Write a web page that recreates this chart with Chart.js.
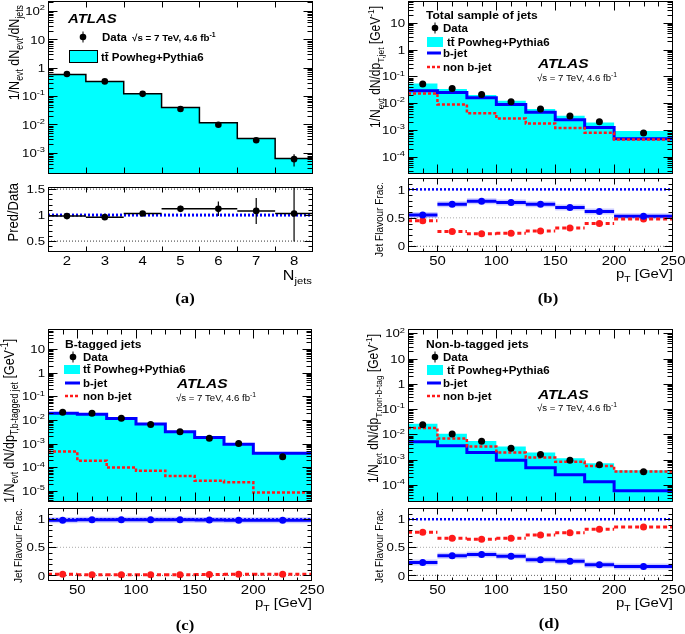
<!DOCTYPE html>
<html>
<head>
<meta charset="utf-8">
<script src="https://cdn.jsdelivr.net/npm/chart.js@4.4.1/dist/chart.umd.min.js"></script>
<style>
  body { margin: 0; background: #fff; width: 685px; height: 634px; position: relative; overflow: hidden; }
  canvas { position: absolute; }
</style>
</head>
<body>
<canvas id="aTop"></canvas><canvas id="aBot"></canvas>
<canvas id="bTop"></canvas><canvas id="bBot"></canvas>
<canvas id="cTop"></canvas><canvas id="cBot"></canvas>
<canvas id="dTop"></canvas><canvas id="dBot"></canvas>
<script>
// ---- (a) jet multiplicity ----
const njets = [2, 3, 4, 5, 6, 7, 8];
const njetsLabels = ['2', '3', '4', '5', '6', '7', '8'];
const njetsEdges = [1.5, 2.5, 3.5, 4.5, 5.5, 6.5, 7.5, 8.5];
const njetsData = [0.60, 0.33, 0.12, 0.035, 0.0098, 0.0028, 0.0006];
const njetsDataErrUp = [0.02, 0.01, 0.004, 0.0015, 0.0006, 0.0004, 0.0003];
const njetsDataErrDn = [0.02, 0.01, 0.004, 0.0015, 0.0006, 0.0004, 0.00027];
const njetsMC = [0.58, 0.325, 0.121, 0.040, 0.0115, 0.0032, 0.00063];
const njetsRatio = [0.98, 0.96, 1.03, 1.12, 1.12, 1.08, 1.03];
const njetsRatioErr = [0.02, 0.02, 0.03, 0.06, 0.14, 0.25, 0.54];
const ratioTicks = [0.5, 1, 1.5];
const ratioTickLabels = ['0.5', '1', '1.5'];

// ---- pT binning shared by (b), (c), (d) ----
const ptEdges = [25, 50, 75, 100, 125, 150, 175, 200, 250];
const ptCentres = [37.5, 62.5, 87.5, 112.5, 137.5, 162.5, 187.5, 225];
const ptTicks = [50, 100, 150, 200, 250];
const ptTickLabels = ['50', '100', '150', '200', '250'];
const fracTicks = [0, 0.5, 1];
const fracTickLabels = ['0', '0.5', '1'];

// ---- (b) all jets ----
const allData = [0.052, 0.035, 0.021, 0.0112, 0.0060, 0.0033, 0.0020, 0.00077];
const allMC = [0.054, 0.034, 0.020, 0.0123, 0.0060, 0.0034, 0.0019, 0.00092];
const allB = [0.029, 0.025, 0.0158, 0.0089, 0.0046, 0.0024, 0.00123, 0.00047];
const allNonB = [0.023, 0.0089, 0.0042, 0.00266, 0.00174, 0.00119, 0.00079, 0.00044];
const allFracB = [0.55, 0.74, 0.79, 0.77, 0.74, 0.68, 0.61, 0.53];
const allFracNonB = [0.45, 0.26, 0.22, 0.23, 0.27, 0.32, 0.40, 0.48];

// ---- (c) b-tagged jets ----
const tagData = [0.021, 0.019, 0.0118, 0.0064, 0.0032, 0.0017, 0.0010, 0.00028];
const tagMC = [0.0195, 0.0178, 0.0116, 0.0069, 0.0033, 0.0018, 0.00096, 0.00040];
const tagB = [0.019, 0.0174, 0.0114, 0.0068, 0.0032, 0.0018, 0.00094, 0.00039];
const tagNonB = [4.6e-4, 1.9e-4, 9.7e-5, 7.2e-5, 4.3e-5, 2.7e-5, 2.3e-5, 8.5e-6];
const tagFracB = [0.98, 0.99, 0.99, 0.99, 0.99, 0.985, 0.98, 0.98];
const tagFracNonB = [0.02, 0.01, 0.01, 0.01, 0.01, 0.015, 0.02, 0.02];

// ---- (d) non-b-tagged jets ----
const untagData = [0.024, 0.0103, 0.0053, 0.0028, 0.0016, 0.00094, 0.00062, 0.00033];
const untagMC = [0.026, 0.0106, 0.0055, 0.0033, 0.0019, 0.00113, 0.00072, 0.00038];
const untagB = [0.0051, 0.0035, 0.0019, 0.00094, 0.00048, 0.00025, 0.000132, 0.000058];
const untagNonB = [0.018, 0.0068, 0.0033, 0.0019, 0.0012, 0.00083, 0.00056, 0.00034];
const untagFracB = [0.23, 0.35, 0.37, 0.34, 0.28, 0.25, 0.19, 0.16];
const untagFracNonB = [0.77, 0.66, 0.645, 0.66, 0.72, 0.76, 0.82, 0.86];

const CYAN = '#00ffff', BLUE = '#0000ff', RED = '#ff1a1a';
const SX = 1.15;   // picture is a bit wider than tall
const SANS = '"Liberation Sans", Arial, sans-serif';
const SERIF = '"Liberation Serif", "Times New Roman", serif';
const TICK = 11.5;

// text with _{sub} and ^{sup}
function parse(s) {
  const out = []; let buf = '', i = 0;
  while (i < s.length) {
    const c = s[i];
    if ((c === '_' || c === '^') && s[i + 1] === '{') {
      if (buf) { out.push([buf, 0]); buf = ''; }
      const j = s.indexOf('}', i);
      out.push([s.slice(i + 2, j), c === '_' ? 1 : -1]);
      i = j + 1;
    } else { buf += c; i++; }
  }
  if (buf) out.push([buf, 0]);
  return out;
}
function txt(ctx, s, x, y, o) {
  const parts = parse(s);
  const font = sz => `${o.italic ? 'italic ' : ''}${o.bold ? 'bold ' : ''}${sz}px ${o.serif ? SERIF : SANS}`;
  ctx.save();
  ctx.translate(x, y);
  ctx.scale(o.sx || SX, 1);
  if (o.rot) ctx.rotate(-Math.PI / 2);
  ctx.fillStyle = o.color || '#000';
  ctx.textAlign = 'left';
  ctx.textBaseline = 'alphabetic';
  const sizes = parts.map(p => p[1] ? o.size * 0.7 : o.size);
  const widths = parts.map((p, i) => { ctx.font = font(sizes[i]); return ctx.measureText(p[0]).width; });
  const w = widths.reduce((a, b) => a + b, 0);
  let cx = o.align === 'right' ? -w : o.align === 'center' ? -w / 2 : 0;
  parts.forEach((p, i) => {
    ctx.font = font(sizes[i]);
    ctx.fillText(p[0], cx, p[1] === 1 ? o.size * 0.3 : p[1] === -1 ? -o.size * 0.42 : 0);
    cx += widths[i];
  });
  ctx.restore();
}

// frame, inward ticks on all sides, tick labels, titles and legend keys
const rootPlugin = {
  id: 'root',
  afterDraw(chart, args, o) {
    const ctx = chart.ctx, a = chart.chartArea, xs = chart.scales.x, ys = chart.scales.y;
    const L = Math.round(a.left) + 0.5, R = Math.round(a.right) - 0.5;
    const T = Math.round(a.top) + 0.5, B = Math.round(a.bottom) - 0.5;
    ctx.save();
    ctx.strokeStyle = '#000';
    ctx.lineWidth = 1;
    ctx.beginPath();
    o.yTicks.forEach(([v, len]) => {
      const p = Math.round(ys.getPixelForValue(v)) + 0.5;
      if (p < T || p > B) return;
      ctx.moveTo(L, p); ctx.lineTo(L + len, p);
      ctx.moveTo(R, p); ctx.lineTo(R - len, p);
    });
    o.xTicks.forEach(([v, len]) => {
      const p = Math.round(xs.getPixelForValue(v)) + 0.5;
      if (p < L || p > R) return;
      ctx.moveTo(p, B); ctx.lineTo(p, B - len);
      ctx.moveTo(p, T); ctx.lineTo(p, T + len);
    });
    ctx.stroke();
    ctx.strokeRect(L, T, R - L, B - T);
    (o.yLabels || []).forEach(([v, s]) =>
      txt(ctx, s, a.left - 3, ys.getPixelForValue(v) + TICK * 0.36, { size: TICK, align: 'right' }));
    (o.xLabels || []).forEach(([v, s]) =>
      txt(ctx, s, xs.getPixelForValue(v), a.bottom + 13, { size: 13, align: 'center' }));
    ctx.translate(-o.ox, -o.oy);
    (o.keys || []).forEach(k => {
      if (k.type === 'marker') {
        ctx.fillStyle = '#000';
        ctx.beginPath(); ctx.arc(k.x, k.y, 3.3, 0, Math.PI * 2); ctx.fill();
        ctx.beginPath(); ctx.moveTo(k.x, k.y - 5.5); ctx.lineTo(k.x, k.y + 5.5); ctx.stroke();
      } else if (k.type === 'box') {
        ctx.fillStyle = CYAN; ctx.fillRect(k.x, k.y, k.w, k.h);
        if (k.outline) { ctx.strokeStyle = '#000'; ctx.strokeRect(k.x + 0.5, k.y + 0.5, k.w, k.h); }
      } else {
        ctx.strokeStyle = k.color; ctx.lineWidth = k.w; ctx.setLineDash(k.dash || []);
        ctx.beginPath(); ctx.moveTo(k.x1, k.y); ctx.lineTo(k.x2, k.y); ctx.stroke();
        ctx.setLineDash([]); ctx.lineWidth = 1;
      }
    });
    (o.texts || []).forEach(t => txt(ctx, t.s, t.x, t.y, t));
    ctx.restore();
  }
};

// helpers turning the arrays into line-chart points
const hist = (edges, vals) => vals.map((v, i) => ({ x: edges[i], y: v })).concat([{ x: edges[edges.length - 1], y: vals[vals.length - 1] }]);
const segs = (edges, vals) => vals.flatMap((v, i) => [{ x: edges[i], y: v }, { x: edges[i + 1], y: v }, { x: edges[i + 1], y: null }]);
const vbars = (xs, vals, up, dn) => xs.flatMap((x, i) => [{ x, y: vals[i] - dn[i] }, { x, y: vals[i] + up[i] }, { x, y: null }]);
const pts = (xs, vals) => xs.map((x, i) => ({ x, y: vals[i] }));
const hline = (x0, x1, y) => [{ x: x0, y }, { x: x1, y }];

const dPts = (data, color, r) => ({ data, showLine: false, pointRadius: r, pointBackgroundColor: color, pointBorderWidth: 0, borderColor: color });
const dLine = (data, color, w, dash, stepped) => ({ data, borderColor: color, borderWidth: w, borderDash: dash || [], stepped: !!stepped, pointRadius: 0, fill: false });
const dFill = (data, border, bw) => ({ data, stepped: true, fill: 'start', backgroundColor: CYAN, borderColor: border, borderWidth: bw, pointRadius: 0 });

function logTicks(min, max, maj, mnr) {
  const t = [];
  for (let e = Math.floor(Math.log10(min)); e <= Math.ceil(Math.log10(max)); e++)
    for (let k = 1; k < 10; k++) { const v = k * Math.pow(10, e); if (v >= min && v <= max) t.push([v, k === 1 ? maj : mnr]); }
  return t;
}
function logLabels(min, max) {
  const t = [];
  for (let e = Math.ceil(Math.log10(min)); e <= Math.floor(Math.log10(max)); e++)
    t.push([Math.pow(10, e), e === 0 ? '1' : e === 1 ? '10' : '10^{' + e + '}']);
  return t;
}
function linTicks(min, max, step, majVals, maj, mnr) {
  const t = [];
  for (let i = Math.ceil(min / step - 1e-6); i * step <= max + 1e-9; i++) {
    const v = +(i * step).toFixed(6);
    t.push([v, majVals.some(m => Math.abs(m - v) < 1e-6) ? maj : mnr]);
  }
  return t;
}
const zip = (vals, labels) => vals.map((v, i) => [v, labels[i]]);

function makeChart(id, box, frame, xr, yr, ylog, datasets, root) {
  const cv = document.getElementById(id);
  cv.width = box[2]; cv.height = box[3];
  cv.style.left = box[0] + 'px'; cv.style.top = box[1] + 'px';
  root.ox = box[0]; root.oy = box[1];
  return new Chart(cv, {
    type: 'line',
    data: { datasets },
    options: {
      responsive: false, animation: false, events: [], devicePixelRatio: 1,
      layout: { autoPadding: false, padding: {
        left: frame[0] - box[0], right: box[0] + box[2] - frame[1],
        top: frame[2] - box[1], bottom: box[1] + box[3] - frame[3] } },
      scales: {
        x: { type: 'linear', min: xr[0], max: xr[1], display: false },
        y: { type: ylog ? 'logarithmic' : 'linear', min: yr[0], max: yr[1], display: false }
      },
      plugins: { legend: { display: false }, tooltip: { enabled: false }, root }
    },
    plugins: [rootPlugin]
  });
}

const ptXTicksTop = linTicks(25, 250, 12.5, ptTicks, 9, 5);
const ptXTicksBot = linTicks(25, 250, 12.5, ptTicks, 6, 3);
const fracYTicks = linTicks(-0.1, 1.2, 0.1, fracTicks, 8, 4);
const ptXLabels = zip(ptTicks, ptTickLabels);
const fracYLabels = zip(fracTicks, fracTickLabels);
const leg = 10;

// ===== (a) =====
const aBox = [0, 0, 340, 320];
const aY = [1.8e-4, 225];
makeChart('aTop', aBox, [48, 313, 1, 174], [1.5, 8.5], aY, true, [
  dPts(pts(njets, njetsData), '#000', 3.3),
  dLine(vbars(njets, njetsData, njetsDataErrUp, njetsDataErrDn), '#000', 1.2),
  dFill(hist(njetsEdges, njetsMC), '#000', 1.5)
], {
  yTicks: logTicks(aY[0], aY[1], 9, 5), xTicks: njetsEdges.slice(1, -1).map(v => [v, 6]),
  yLabels: logLabels(aY[0], aY[1]),
  keys: [{ type: 'marker', x: 83, y: 37 }, { type: 'box', x: 69, y: 50, w: 28, h: 12, outline: true }],
  texts: [
    { s: '1/N_{evt} dN_{evt}/dN_{jets}', x: 19, y: 5, size: 12.5, rot: true, align: 'right' },
    { s: 'ATLAS', x: 68, y: 22.5, size: 13, bold: true, italic: true },
    { s: 'Data', x: 102, y: 41, size: leg, bold: true },
    { s: '\u221As = 7 TeV, 4.6 fb^{-1}', x: 132, y: 41, size: 9.8, bold: true, sx: 1 },
    { s: 'tt\u0304 Powheg+Pythia6', x: 101, y: 61, size: leg, bold: true }
  ]
});
const aR = [0.29, 1.54];
makeChart('aBot', aBox, [48, 313, 187, 252], [1.5, 8.5], aR, false, [
  dPts(pts(njets, njetsRatio), '#000', 3.3),
  dLine(vbars(njets, njetsRatio, njetsRatioErr, njetsRatioErr), '#000', 1.2),
  dLine(segs(njetsEdges, njetsRatio), '#000', 1.5),
  dLine(hline(1.5, 8.5, 1), BLUE, 3, [2, 2]),
  dLine(hline(1.5, 8.5, 0.5), '#333', 1, [1, 2]),
  dLine(hline(1.5, 8.5, 1.5), '#333', 1, [1, 2])
], {
  yTicks: linTicks(aR[0], aR[1], 0.1, ratioTicks, 8, 4), xTicks: njetsEdges.slice(1, -1).map(v => [v, 5]),
  yLabels: zip(ratioTicks, ratioTickLabels), xLabels: zip(njets, njetsLabels),
  texts: [
    { s: 'Pred/Data', x: 18, y: 183, size: 13, rot: true, align: 'right' },
    { s: 'N_{jets}', x: 312, y: 280, size: 14, align: 'right' },
    { s: '(a)', x: 185, y: 303, size: 14.5, bold: true, serif: true, align: 'center' }
  ]
});

// ===== upper / lower pT panels =====
function ptPanel(ids, box, L, R, topFr, botFr, yr, data, mc, bj, nb, fb, fnb, texts, keys) {
  const upper = [
    dPts(pts(ptCentres, data), '#000', 3.5),
    dLine(hist(ptEdges, nb), RED, 2.5, [3, 2], true),
    dLine(hist(ptEdges, bj), BLUE, 3, [], true),
    dFill(hist(ptEdges, mc), 'rgba(0,0,0,0)', 0)
  ];
  makeChart(ids[0], box, [L, R, topFr[0], topFr[1]], [25, 250], yr, true, upper, {
    yTicks: logTicks(yr[0], yr[1], 9, 5), xTicks: ptXTicksTop, yLabels: logLabels(yr[0], yr[1]),
    keys, texts: texts.upper
  });
  makeChart(ids[1], box, [L, R, botFr[0], botFr[1]], [25, 250], [-0.1, 1.2], false, [
    dPts(pts(ptCentres, fb), BLUE, 3.5),
    dPts(pts(ptCentres, fnb), RED, 3.5),
    dLine(segs(ptEdges, fnb), RED, 3, [4, 3]),
    dLine(segs(ptEdges, fb), BLUE, 3),
    dLine(segs(ptEdges, fb), 'rgba(90,90,255,0.3)', 6),
    dLine(hline(25, 250, 1), BLUE, 2.5, [2, 2]),
    dLine(hline(25, 250, 0.5), '#aaa', 1, [1, 2]),
    dLine(hline(25, 250, 0), '#666', 1, [1, 2])
  ], {
    yTicks: fracYTicks, xTicks: ptXTicksBot, yLabels: fracYLabels, xLabels: ptXLabels,
    texts: texts.lower
  });
}

const legKeys = (mx, my, bx, by, bw, bh, lx1, lx2, ly1, ly2) => [
  { type: 'marker', x: mx, y: my },
  { type: 'box', x: bx, y: by, w: bw, h: bh },
  { type: 'line', x1: lx1, x2: lx2, y: ly1, color: BLUE, w: 3 },
  { type: 'line', x1: lx1, x2: lx2, y: ly2, color: RED, w: 2.5, dash: [3, 2] }
];
const legTexts = (title, tx, ty, x1, x2, yD, yM, yB, yN, ax, ay, sy) => [
  { s: title, x: tx, y: ty, size: 10.5, bold: true },
  { s: 'Data', x: x1, y: yD, size: leg, bold: true },
  { s: 'tt\u0304 Powheg+Pythia6', x: x2, y: yM, size: leg, bold: true },
  { s: 'b-jet', x: x1, y: yB, size: leg, bold: true },
  { s: 'non b-jet', x: x1, y: yN, size: leg, bold: true },
  { s: 'ATLAS', x: ax, y: ay, size: 13.5, bold: true, italic: true },
  { s: '\u221As = 7 TeV, 4.6 fb^{-1}', x: ax - 1, y: sy, size: 9.6, sx: 1 }
];

// (b)
ptPanel(['bTop', 'bBot'], [340, 0, 345, 320], 408, 673, [1, 174], [178, 252], [2.26e-5, 65],
  allData, allMC, allB, allNonB, allFracB, allFracNonB, {
    upper: [{ s: '1/N_{evt} dN/dp_{T,jet} [GeV^{-1}]', x: 380, y: 128, size: 12, rot: true }]
      .concat(legTexts('Total sample of jets', 426, 19, 443, 447, 32, 46, 57, 71, 538, 68, 81)),
    lower: [
      { s: 'Jet Flavour Frac.', x: 383, y: 182, size: 10, rot: true, align: 'right' },
      { s: 'p_{T} [GeV]', x: 673, y: 278, size: 13, align: 'right' },
      { s: '(b)', x: 548, y: 303, size: 14.5, bold: true, serif: true, align: 'center' }
    ]
  }, legKeys(435, 28, 427, 37, 16, 10, 427, 441, 53, 67));

// (c)
ptPanel(['cTop', 'cBot'], [0, 320, 340, 314], 48, 312, [329, 502], [508, 581], [3.4e-6, 70],
  tagData, tagMC, tagB, tagNonB, tagFracB, tagFracNonB, {
    upper: [{ s: '1/N_{evt} dN/dp_{T,b-tagged jet} [GeV^{-1}]', x: 14, y: 503, size: 12.5, rot: true }]
      .concat(legTexts('B-tagged jets', 65, 348, 83, 83, 361, 373, 387, 399.5, 177, 388, 401)),
    lower: [
      { s: 'Jet Flavour Frac.', x: 22, y: 508, size: 10, rot: true, align: 'right' },
      { s: 'p_{T} [GeV]', x: 312, y: 607, size: 13, align: 'right' },
      { s: '(c)', x: 185, y: 630, size: 14.5, bold: true, serif: true, align: 'center' }
    ]
  }, legKeys(73, 357, 64, 365, 16, 9, 65, 80, 383, 396));

// (d)
ptPanel(['dTop', 'dBot'], [340, 320, 345, 314], 408, 673, [329, 502], [508, 581], [2.1e-5, 148],
  untagData, untagMC, untagB, untagNonB, untagFracB, untagFracNonB, {
    upper: [{ s: '1/N_{evt} dN/dp_{T,non-b-tag} [GeV^{-1}]', x: 378, y: 483, size: 12, rot: true }]
      .concat(legTexts('Non-b-tagged jets', 426, 348, 443, 447, 361, 373.5, 387, 399.5, 538, 399, 411)),
    lower: [
      { s: 'Jet Flavour Frac.', x: 383, y: 508, size: 10, rot: true, align: 'right' },
      { s: 'p_{T} [GeV]', x: 673, y: 607, size: 13, align: 'right' },
      { s: '(d)', x: 549, y: 628, size: 14.5, bold: true, serif: true, align: 'center' }
    ]
  }, legKeys(435, 357, 427, 365, 16, 10, 427, 441, 383, 396));
</script>
</body>
</html>
